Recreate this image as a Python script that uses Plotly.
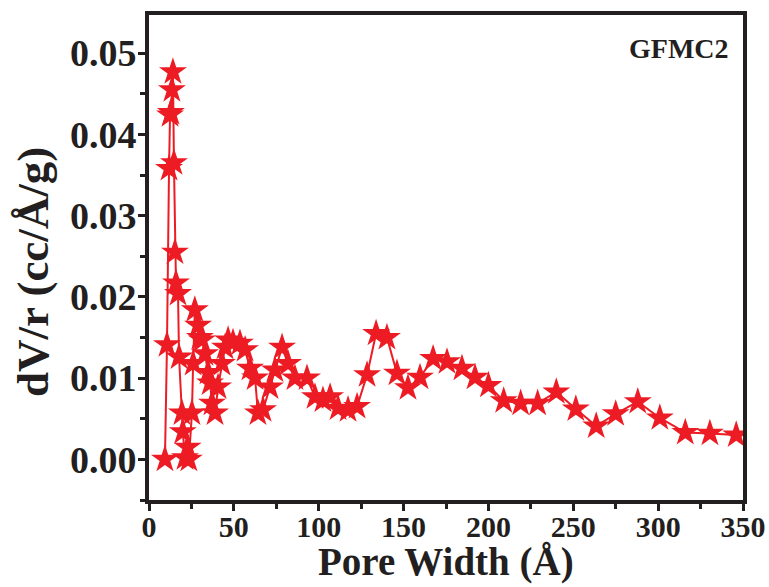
import plotly.graph_objects as go

pore_width = [9.4, 10.6, 11.8, 12.4, 12.9, 13.5, 14.1, 14.7, 15.3, 15.9, 17.1, 17.7,
              19.4, 19.9, 21.2, 22.8, 23.5, 25.3, 26.0, 27.0, 28.9, 30.0, 31.2, 33.0,
              34.8, 36.0, 37.1, 38.9, 40.7, 43.0, 44.8, 46.6, 49.5, 53.6, 56.6, 59.5,
              62.5, 64.2, 67.2, 71.3, 74.2, 78.4, 81.9, 86.0, 93.1, 97.8, 102.5, 106.7,
              111.4, 117.3, 122.6, 128.5, 133.8, 140.2, 146.1, 152.6, 159.7, 167.4,
              175.6, 184.4, 192.1, 200.0, 209.0, 219.0, 229.0, 240.0, 251.5, 263.5,
              275.0, 288.0, 301.0, 316.0, 330.5, 346.0]
dv_r = [0.0000, 0.0141, 0.0358, 0.0424, 0.0427, 0.0455, 0.0477, 0.0365, 0.0255, 0.0217,
        0.0204, 0.0126, 0.0057, 0.0034, 0.0002, 0.0015, 0.0000, 0.0057, 0.0118, 0.0184,
        0.0165, 0.0150, 0.0147, 0.0130, 0.0107, 0.0094, 0.0069, 0.0057, 0.0089, 0.0118,
        0.0138, 0.0147, 0.0144, 0.0143, 0.0135, 0.0112, 0.0100, 0.0057, 0.0061, 0.0089,
        0.0110, 0.0138, 0.0118, 0.0100, 0.0100, 0.0077, 0.0073, 0.0077, 0.0063, 0.0061,
        0.0065, 0.0104, 0.0155, 0.0150, 0.0106, 0.0088, 0.0101, 0.0124, 0.0120, 0.0112,
        0.0101, 0.0091, 0.0072, 0.0069, 0.0069, 0.0083, 0.0062, 0.0041, 0.0056, 0.0071,
        0.0051, 0.0033, 0.0032, 0.0030]

x_ticks = [0, 50, 100, 150, 200, 250, 300, 350]
y_ticks = [0.00, 0.01, 0.02, 0.03, 0.04, 0.05]
sample_label = "GFMC2"
x_title = "Pore Width (Å)"
y_title = "dV/r (cc/Å/g)"

RED = "#ed1c24"
AX = "#231f20"
FONT = "Liberation Serif, Times New Roman, serif"

fig = go.Figure()
fig.add_trace(go.Scatter(
    x=pore_width, y=dv_r, mode="lines+markers",
    line=dict(color=RED, width=2),
    marker=dict(symbol="star", size=21, color=RED, line=dict(width=0)),
    showlegend=False,
))

fig.update_layout(
    width=769, height=587,
    margin=dict(l=149, r=26, t=15, b=87),
    paper_bgcolor="white", plot_bgcolor="white",
    font=dict(family=FONT, color=AX, weight="bold"),
    annotations=[
        dict(text=sample_label, xref="paper", yref="paper",
             x=0.98, y=0.93, xanchor="right", yanchor="middle",
             showarrow=False, font=dict(family=FONT, size=28, color=AX, weight="bold")),
        dict(text=x_title, xref="paper", yref="paper",
             x=0.5, y=-0.128, xanchor="center", yanchor="middle",
             showarrow=False, font=dict(family=FONT, size=39, color=AX, weight="bold")),
        dict(text=y_title, xref="paper", yref="paper", textangle=-90,
             x=-0.1953, y=0.47, xanchor="center", yanchor="middle",
             showarrow=False, font=dict(family=FONT, size=45, color=AX, weight="bold")),
    ],
)

fig.update_xaxes(
    range=[0, 350], tickvals=x_ticks, ticktext=[str(v) for v in x_ticks],
    showgrid=False, zeroline=False,
    showline=True, linewidth=4, linecolor=AX, mirror=True,
    ticks="outside", ticklen=7, tickwidth=3, tickcolor=AX,
    minor=dict(dtick=25, ticks="outside", ticklen=5, tickwidth=3, tickcolor=AX, showgrid=False),
    tickfont=dict(family=FONT, size=30, color=AX, weight="bold"),
    ticklabelstandoff=-10,
    automargin=False,
)
fig.update_yaxes(
    range=[-0.005, 0.0547], tickvals=y_ticks, ticktext=[f"{v:.2f}" for v in y_ticks],
    showgrid=False, zeroline=False,
    showline=True, linewidth=4, linecolor=AX, mirror=True,
    ticks="outside", ticklen=7, tickwidth=3, tickcolor=AX,
    minor=dict(dtick=0.005, ticks="outside", ticklen=5, tickwidth=3, tickcolor=AX, showgrid=False),
    tickfont=dict(family=FONT, size=38, color=AX, weight="bold"),
    ticklabelstandoff=-6,
    automargin=False,
)

fig.write_html("out.html")
